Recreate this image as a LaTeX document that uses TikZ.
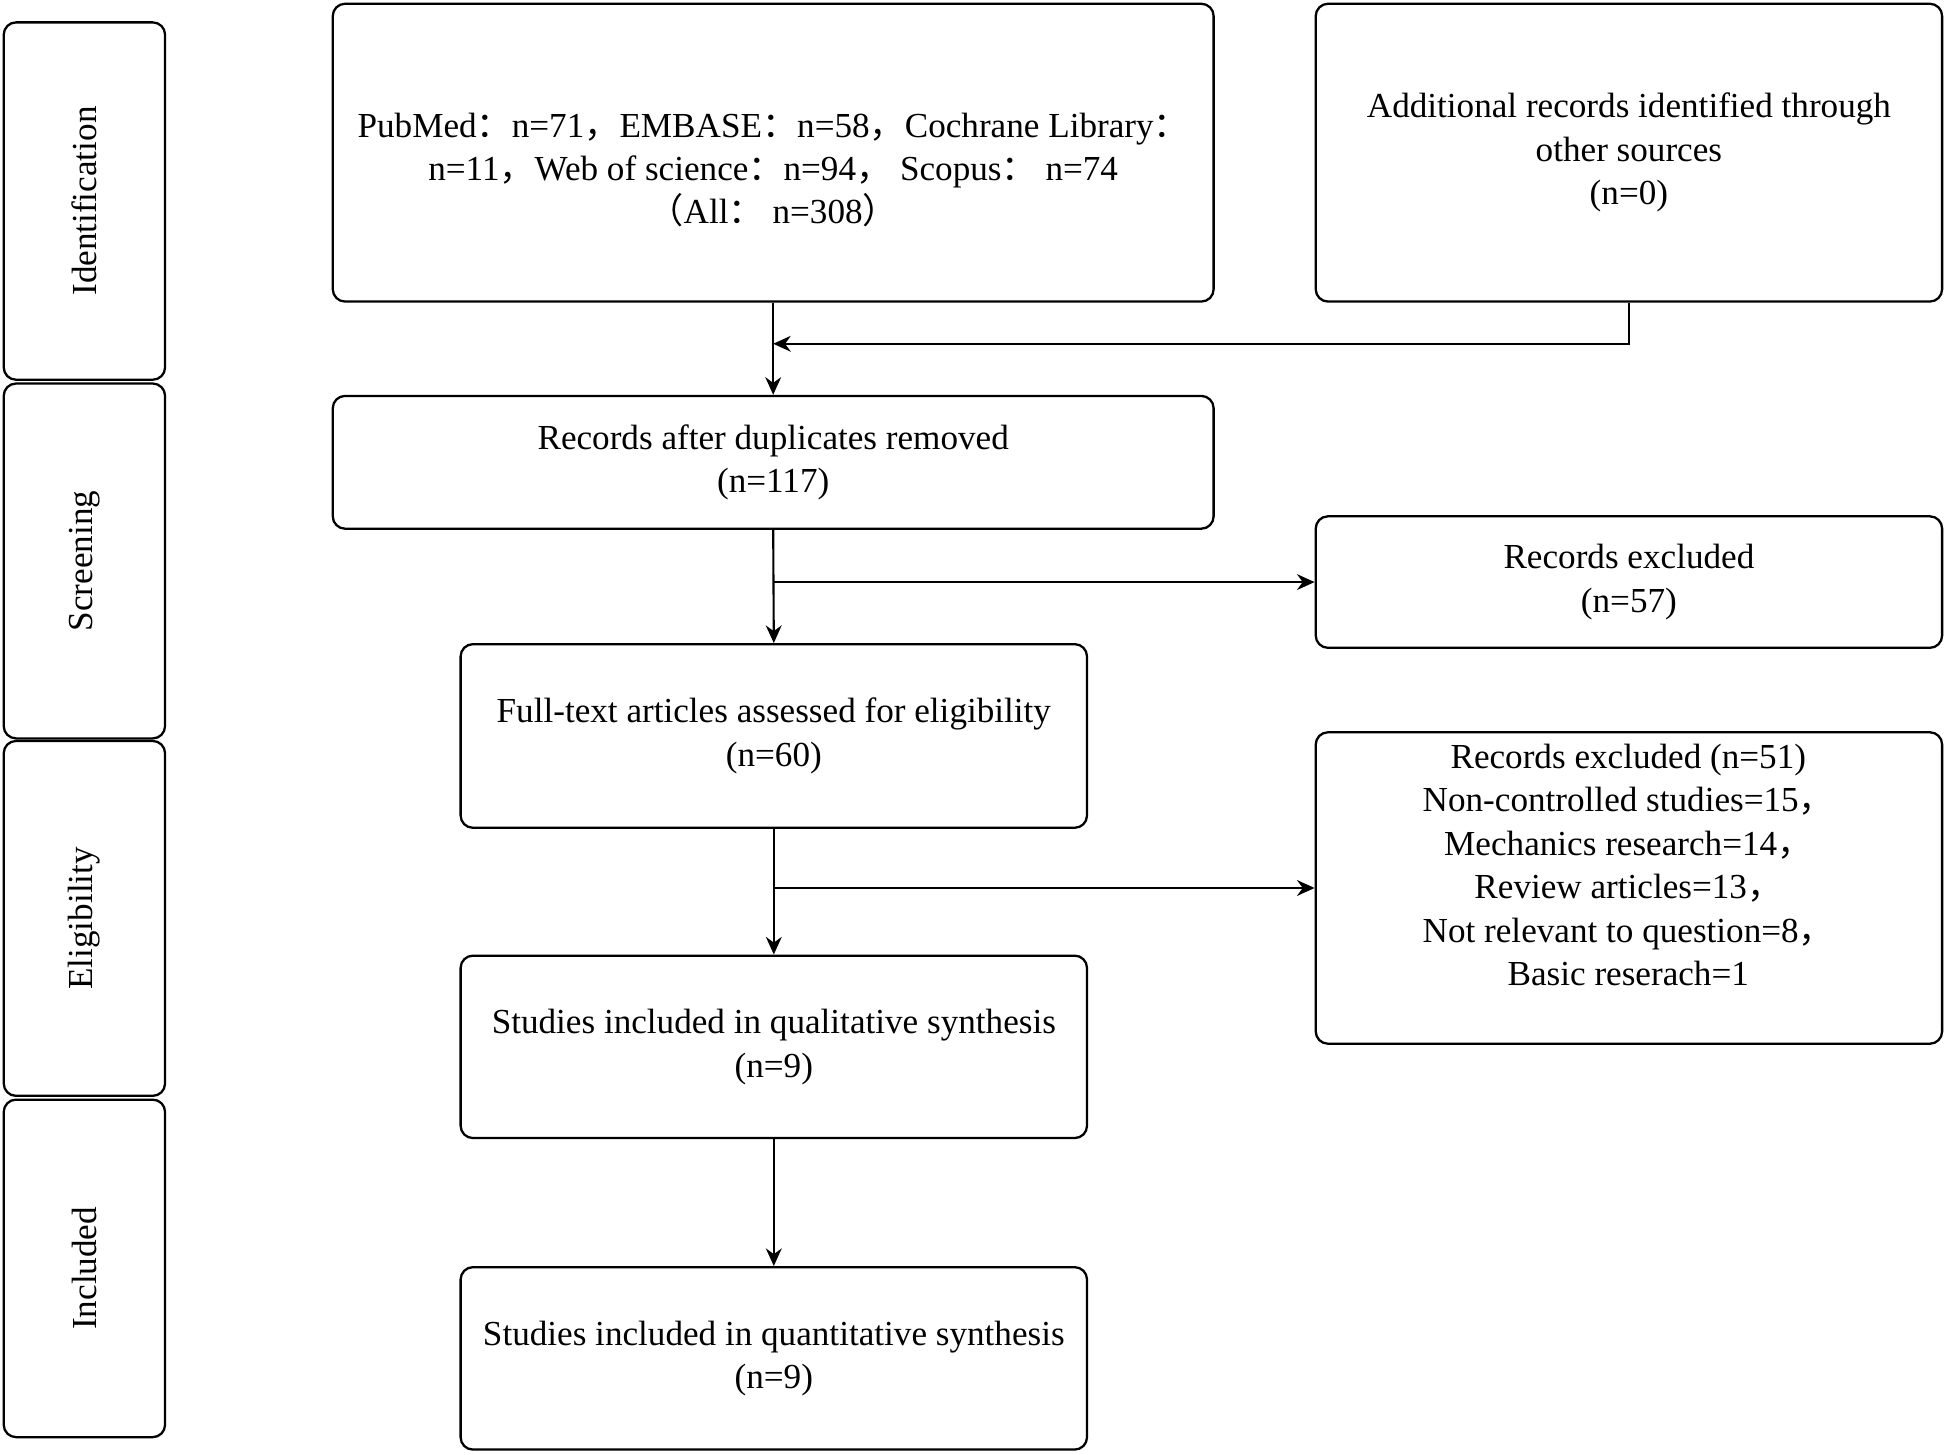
\documentclass[tikz,border=0pt]{standalone}
\usepackage{fontspec}
\setmainfont{Liberation Serif}
\newfontfamily\cjk{Noto Sans CJK SC}
\usetikzlibrary{arrows.meta}

\begin{document}
\begin{tikzpicture}[x=0.02482cm,y=-0.02482cm,font=\fontsize{20}{24.7}\selectfont,
		box/.style={draw,rounded corners=7pt,line width=1.3pt,inner sep=0pt,align=center},
		wide/.style={box,minimum width=17.62cm},
		narrow/.style={box,minimum width=12.53cm},
		stage/.style={box,minimum width=3.227cm},
		txt/.style={align=center,inner sep=0pt},
		stagetxt/.style={rotate=90,inner sep=0pt},
		arr/.style={line width=1.2pt,-{Stealth[length=10pt,width=9pt]}}]
	\useasboundingbox (0,0) rectangle (1568,1172);
	\node[stage,minimum height=7.148cm] (ident) at (68,162) {};
	\node[stage,minimum height=7.099cm] (screen) at (68,452) {};
	\node[stage,minimum height=7.099cm] (elig) at (68,740) {};
	\node[stage,minimum height=6.751cm] (incl) at (68,1022) {};
	\node[stagetxt] (identtxt) at (ident.center) {Identification};
	\node[stagetxt] (screentxt) at (screen.center) {Screening};
	\node[stagetxt] (eligtxt) at (elig.center) {Eligibility};
	\node[stagetxt] (incltxt) at (incl.center) {Included};
	\node[wide,minimum height=5.957cm] (db) at (623,123) {};
	\node[txt] (dbtxt) at (623,137) {PubMed{\cjk ：}n=71{\cjk ，}EMBASE{\cjk ：}n=58{\cjk ，}Cochrane Library{\cjk ：}\\
		n=11{\cjk ，}Web of science{\cjk ：}n=94{\cjk ，} Scopus{\cjk ：} n=74\\
		{\cjk （}All{\cjk ：} n=308{\cjk ）}};
	\node[narrow,minimum height=5.957cm] (other) at (1312.5,123) {Additional records identified through\\other sources\\(n=0)};
	\node[wide,minimum height=2.656cm] (dedup) at (623,372.5) {Records after duplicates removed\\(n=117)};
	\node[narrow,minimum height=2.631cm] (excla) at (1312.5,469) {Records excluded\\(n=57)};
	\node[narrow,minimum height=3.673cm] (full) at (623.5,593) {Full-text articles assessed for eligibility\\(n=60)};
	\node[narrow,minimum height=6.230cm] (exclb) at (1312.5,715.5) {};
	\node[txt] (exclbtxt) at (1312,697) {Records excluded (n=51)\\Non-controlled studies=15{\cjk ，}\\
		Mechanics research=14{\cjk ，}\\Review articles=13{\cjk ，}\\
		Not relevant to question=8{\cjk ，}\\Basic reserach=1};
	\node[narrow,minimum height=3.649cm] (qual) at (623.5,843.5) {Studies included in qualitative synthesis\\(n=9)};
	\node[narrow,minimum height=3.649cm] (quant) at (623.5,1094.5) {Studies included in quantitative synthesis\\(n=9)};
	\coordinate (join) at (623,277);
	\draw[arr] (db.south) -- (dedup.north);
	\draw[arr] (other.south) |- (join);
	\draw[arr] (dedup.south) -- (full.north);
	\draw[arr] (dedup.south |- excla.west) -- (excla.west);
	\draw[arr] (full.south) -- (qual.north);
	\draw[arr] (full.south |- exclb.west) -- (exclb.west);
	\draw[arr] (qual.south) -- (quant.north);
\end{tikzpicture}
\end{document}
